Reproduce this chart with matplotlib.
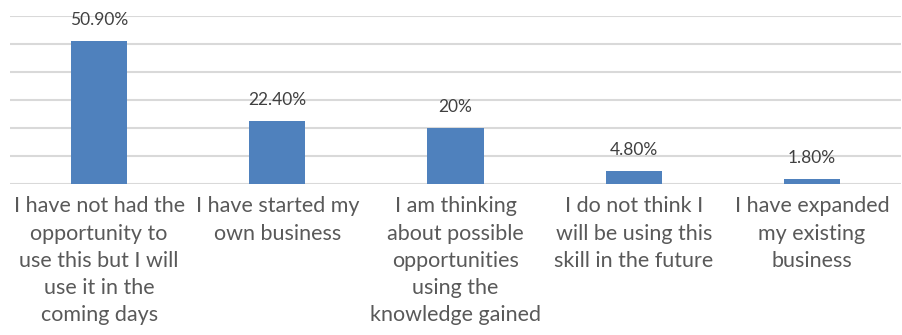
import numpy as np
import matplotlib.pyplot as plt

# ---------- data ----------
categories = [
    "I have not had the\nopportunity to\nuse this but I will\nuse it in the\ncoming days",
    "I have started my\nown business",
    "I am thinking\nabout possible\nopportunities\nusing the\nknowledge gained",
    "I do not think I\nwill be using this\nskill in the future",
    "I have expanded\nmy existing\nbusiness",
]
values = [50.9, 22.4, 20.0, 4.8, 1.8]
value_labels = ["50.90%", "22.40%", "20%", "4.80%", "1.80%"]

# ---------- plotting ----------
plt.rcParams["font.family"] = ["Lato", "DejaVu Sans"]

fig = plt.figure(figsize=(9.02, 3.35), dpi=100)
ax = fig.add_axes([10 / 902, (335 - 184) / 335, 891 / 902, 168 / 335])

x = np.arange(len(values))
ax.bar(x, values, width=0.315, color="#4F81BD", zorder=3)

for xi, v, lab in zip(x, values, value_labels):
    ax.annotate(lab, (xi, v), xytext=(0, 21), textcoords="offset pixels",
                ha="center", va="center", fontsize=12.5, color="#404040")

ax.set_xlim(-0.5, len(values) - 0.5)
ax.set_ylim(0, 60)
ax.set_yticks(np.arange(0, 61, 10))
ax.yaxis.grid(True, color="#D9D9D9", linewidth=1.5, zorder=0)
ax.tick_params(axis="y", left=False, labelleft=False)

ax.set_xticks(x)
ax.set_xticklabels(categories, fontsize=15.5, color="#595959", linespacing=1.45)
ax.tick_params(axis="x", length=0, pad=9)

for s in ax.spines.values():
    s.set_visible(False)

fig.savefig("out.png", dpi=100)
